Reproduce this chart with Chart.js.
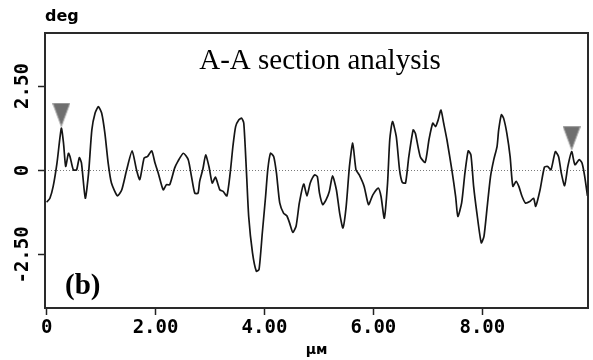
<!DOCTYPE html>
<html>
<head>
<meta charset="utf-8">
<script src="https://cdn.jsdelivr.net/npm/chart.js@4.4.1/dist/chart.umd.min.js"></script>
<style>
    html, body { margin: 0; padding: 0; background: #fff; }
    #wrap { width: 593px; height: 360px; }
</style>
</head>
<body>
<div id="wrap"><canvas id="sectionChart" width="593" height="360"></canvas></div>
<script>
// Section profile, x in µm and y in deg
const positions = [
    0.00, 0.06, 0.12, 0.19, 0.27, 0.31, 0.35, 0.40, 0.43, 0.49, 0.55, 0.60, 0.64, 0.71, 0.77, 0.83,
    0.89, 0.95, 1.01, 1.07, 1.13, 1.19, 1.30, 1.38, 1.47, 1.57, 1.65, 1.71, 1.79, 1.85, 1.93, 1.99,
    2.05, 2.14, 2.20, 2.26, 2.35, 2.41, 2.51, 2.60, 2.66, 2.72, 2.78, 2.81, 2.87, 2.92, 2.98, 3.04,
    3.10, 3.18, 3.24, 3.31, 3.37, 3.42, 3.47, 3.53, 3.58, 3.62, 3.67, 3.71, 3.78, 3.85, 3.90, 3.96,
    4.02, 4.06, 4.11, 4.17, 4.22, 4.28, 4.35, 4.41, 4.46, 4.52, 4.58, 4.64, 4.72, 4.78, 4.84, 4.92,
    4.97, 5.01, 5.07, 5.13, 5.19, 5.25, 5.32, 5.38, 5.44, 5.50, 5.56, 5.62, 5.68, 5.74, 5.83, 5.91,
    5.99, 6.09, 6.14, 6.20, 6.26, 6.30, 6.35, 6.42, 6.48, 6.53, 6.59, 6.65, 6.73, 6.77, 6.86, 6.95,
    7.02, 7.09, 7.14, 7.19, 7.24, 7.29, 7.35, 7.44, 7.51, 7.55, 7.62, 7.68, 7.74, 7.79, 7.84, 7.90,
    7.98, 8.03, 8.09, 8.15, 8.21, 8.27, 8.30, 8.35, 8.39, 8.45, 8.51, 8.56, 8.62, 8.67, 8.73, 8.79,
    8.87, 8.94, 8.98, 9.06, 9.14, 9.20, 9.26, 9.34, 9.40, 9.45, 9.51, 9.57, 9.64, 9.70, 9.78, 9.83,
    9.88, 9.93
];
const angles = [
    -0.94, -0.82, -0.47, 0.22, 1.25, 0.81, 0.12, 0.51, 0.41, 0.02, 0.02, 0.38, 0.22, -0.82, -0.08, 1.20,
    1.70, 1.89, 1.70, 1.10, 0.22, -0.37, -0.75, -0.57, 0.02, 0.58, 0.02, -0.27, 0.37, 0.41, 0.58, 0.22,
    -0.08, -0.57, -0.42, -0.42, 0.07, 0.27, 0.51, 0.32, -0.18, -0.67, -0.67, -0.32, 0.05, 0.46, 0.12, -0.37,
    -0.20, -0.57, -0.62, -0.75, -0.08, 0.71, 1.30, 1.50, 1.55, 1.40, -0.08, -1.36, -2.44, -2.98, -2.93, -1.85,
    -0.77, 0.02, 0.51, 0.41, -0.08, -0.96, -1.26, -1.34, -1.55, -1.83, -1.65, -0.96, -0.40, -0.75, -0.37, -0.13,
    -0.18, -0.67, -1.01, -0.87, -0.62, -0.16, -0.57, -1.26, -1.70, -1.06, 0.12, 0.81, 0.02, -0.13, -0.47, -1.01,
    -0.72, -0.52, -0.77, -1.41, -0.37, 0.91, 1.45, 1.00, 0.02, -0.35, -0.37, 0.41, 1.20, 1.10, 0.41, 0.24,
    0.91, 1.40, 1.30, 1.50, 1.79, 1.40, 0.91, 0.02, -0.77, -1.36, -0.96, -0.08, 0.58, 0.46, -0.47, -1.26,
    -2.14, -1.95, -1.06, -0.18, 0.32, 0.71, 1.20, 1.65, 1.55, 1.10, 0.41, -0.47, -0.32, -0.47, -0.77, -0.96,
    -0.92, -0.82, -1.06, -0.57, 0.10, 0.12, 0.02, 0.56, 0.41, -0.08, -0.45, 0.12, 0.56, 0.17, 0.32, 0.22,
    -0.18, -0.75
];

// Cursor markers (the two grey triangles)
const markerX = [0.27, 9.64];
const markerY = [1.65, 0.96];

// Tick labels
const xTicks = [0, 2, 4, 6, 8];
const xTickLabels = ['0', '2.00', '4.00', '6.00', '8.00'];
const yTicks = [-2.5, 0, 2.5];
const yTickLabels = ['-2.50', '0', '2.50'];

// Axis ranges
const X_MIN = -0.03;
const X_MAX = 9.94;
const Y_MIN = -4.07;
const Y_MAX = 4.07;

// Build the triangle image used as point style
function makeTriangle() {
    const c = document.createElement('canvas');
    c.width = 18;
    c.height = 24;
    const g = c.getContext('2d');
    g.beginPath();
    g.moveTo(0.5, 0.5);
    g.lineTo(17.5, 0.5);
    g.lineTo(9, 23.5);
    g.closePath();
    g.fillStyle = '#6f6f6f';
    g.fill();
    g.strokeStyle = '#a0a0a0';
    g.lineWidth = 1;
    g.stroke();
    return c;
}

// Frame and annotations
const framePlugin = {
    id: 'frame',
    afterDraw(chart) {
        const ctx = chart.ctx;
        const a = chart.chartArea;
        ctx.save();
        ctx.strokeStyle = '#2a2a2a';
        ctx.lineWidth = 2;
        ctx.strokeRect(a.left, a.top, a.right - a.left, a.bottom - a.top);

        ctx.fillStyle = '#000';
        ctx.textAlign = 'left';
        ctx.textBaseline = 'alphabetic';
        ctx.font = 'bold 16px "DejaVu Sans"';
        ctx.fillText('deg', 45, 21);

        ctx.textAlign = 'center';
        ctx.font = '29px "Liberation Serif"';
        ctx.fillText('A-A section analysis', 320, 69);

        ctx.textAlign = 'left';
        ctx.font = 'bold 29px "Liberation Serif"';
        ctx.fillText('(b)', 65, 294);
        ctx.restore();
    }
};

const tickFont = { family: '"DejaVu Sans Mono"', size: 19, weight: 'bold' };

const ctx = document.getElementById('sectionChart').getContext('2d');
const sectionChart = new Chart(ctx, {
    type: 'scatter',
    data: {
        datasets: [
            {
                label: 'profile',
                data: positions.map((x, i) => ({ x: x, y: angles[i] })),
                showLine: true,
                borderColor: '#151515',
                borderWidth: 1.7,
                pointRadius: 0,
                tension: 0.2,
                order: 2
            },
            {
                label: 'zero',
                data: [{ x: X_MIN, y: 0 }, { x: X_MAX, y: 0 }],
                showLine: true,
                borderColor: '#7a7a7a',
                borderWidth: 1,
                borderDash: [1, 2],
                pointRadius: 0,
                order: 3
            },
            {
                label: 'cursors',
                data: markerX.map((x, i) => ({ x: x, y: markerY[i] })),
                showLine: false,
                pointStyle: makeTriangle(),
                order: 1
            }
        ]
    },
    options: {
        responsive: false,
        animation: false,
        layout: { padding: { top: 33, right: 4, left: 0, bottom: 0 } },
        plugins: {
            legend: { display: false },
            tooltip: { enabled: false }
        },
        scales: {
            x: {
                type: 'linear',
                min: X_MIN,
                max: X_MAX,
                afterBuildTicks: (scale) => { scale.ticks = xTicks.map(v => ({ value: v })); },
                afterFit: (scale) => { scale.height = 52; },
                border: { display: false },
                grid: { drawOnChartArea: false, drawTicks: true, tickLength: 7, tickColor: '#222', tickWidth: 1.5 },
                ticks: {
                    color: '#000',
                    font: tickFont,
                    padding: 2,
                    maxRotation: 0,
                    callback: (value) => xTickLabels[xTicks.indexOf(value)]
                },
                title: {
                    display: true,
                    text: 'µм',
                    color: '#000',
                    font: { family: '"DejaVu Sans"', size: 14, weight: 'bold' },
                    padding: { top: 0, bottom: 1 }
                }
            },
            y: {
                type: 'linear',
                min: Y_MIN,
                max: Y_MAX,
                afterBuildTicks: (scale) => { scale.ticks = yTicks.map(v => ({ value: v })); },
                afterFit: (scale) => { scale.width = 45; },
                border: { display: false },
                grid: { drawOnChartArea: false, drawTicks: true, tickLength: 7, tickColor: '#222', tickWidth: 1.5 },
                ticks: {
                    color: '#000',
                    font: tickFont,
                    minRotation: 90,
                    maxRotation: 90,
                    crossAlign: 'center',
                    padding: -14,
                    callback: (value) => yTickLabels[yTicks.indexOf(value)]
                }
            }
        }
    },
    plugins: [framePlugin]
});
</script>
</body>
</html>
